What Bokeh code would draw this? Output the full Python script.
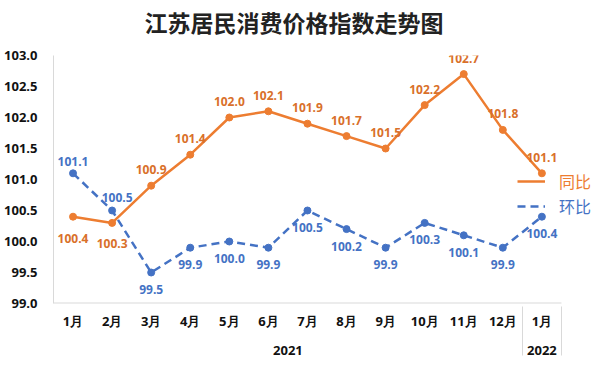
from bokeh.plotting import figure
from bokeh.models import (FactorRange, ColumnDataSource, LabelSet, Legend, LegendItem,
                          FixedTicker, Range1d, NumeralTickFormatter, Title)
from bokeh.embed import file_html
from bokeh.resources import INLINE
from bokeh.core.properties import value

title = "江苏居民消费价格指数走势图"
years = ["2021"] * 12 + ["2022"]
months = ["1月", "2月", "3月", "4月", "5月", "6月", "7月", "8月", "9月", "10月", "11月", "12月", "1月"]
yoy = [100.4, 100.3, 100.9, 101.4, 102.0, 102.1, 101.9, 101.7, 101.5, 102.2, 102.7, 101.8, 101.1]
mom = [101.1, 100.5, 99.5, 99.9, 100.0, 99.9, 100.5, 100.2, 99.9, 100.3, 100.1, 99.9, 100.4]
y_ticks = [99.0, 99.5, 100.0, 100.5, 101.0, 101.5, 102.0, 102.5, 103.0]
series_names = ["同比", "环比"]

ORANGE = "#ED7D31"
ORANGE_TXT = "#D9702A"
BLUE = "#4472C4"
GRID = "#D9D9D9"

factors = list(zip(years, months))
# blank trailing slot that leaves room for the legend at the right
legend_slot = (" ", " ")

p = figure(width=600, height=371,
           x_range=FactorRange(*(factors + [legend_slot]), factor_padding=0,
                               group_padding=0, range_padding=0),
           y_range=Range1d(99.0, 103.0),
           output_backend="svg", toolbar_location=None,
           min_border_left=53, min_border_right=0, min_border_top=55, min_border_bottom=68)

p.title.text = ""
p.title.standoff = 0
# spacer between title and plot area, then the title itself
p.add_layout(Title(text=" ", text_font_size="8px", standoff=6), "above")
p.add_layout(Title(text=title, align="left", offset=91, standoff=0,
                   text_font="Noto Sans CJK SC", text_font_size="23px",
                   text_font_style="bold", text_color="#222222"), "above")

p.outline_line_color = None
p.xgrid.grid_line_color = None
p.ygrid.grid_line_color = None

p.yaxis.ticker = FixedTicker(ticks=y_ticks)
p.yaxis.formatter = NumeralTickFormatter(format="0.0")
p.yaxis.axis_line_color = GRID
p.yaxis.major_tick_line_color = None
p.yaxis.major_tick_out = 0
p.yaxis.major_tick_in = 0
p.yaxis.minor_tick_line_color = None
p.yaxis.major_label_standoff = 16
p.yaxis.major_label_text_font = "Open Sans"
p.yaxis.major_label_text_font_style = "bold"
p.yaxis.major_label_text_font_size = "13px"
p.yaxis.major_label_text_color = "#111111"

p.xaxis.axis_line_color = None
p.xaxis.major_tick_line_color = None
p.xaxis.major_tick_out = 0
p.xaxis.major_tick_in = 0
p.xaxis.minor_tick_line_color = None
p.xaxis.major_label_standoff = 8
p.xaxis.major_label_text_font = "Open Sans"
p.xaxis.major_label_text_font_style = "bold"
p.xaxis.major_label_text_font_size = "13px"
p.xaxis.major_label_text_color = "#111111"
p.xaxis.group_text_font = "Open Sans"
p.xaxis.group_text_font_style = "bold"
p.xaxis.group_text_font_size = "13px"
p.xaxis.group_text_color = "#111111"
p.xaxis.separator_line_color = GRID
p.xaxis.separator_line_width = 1

# bottom axis line over the real categories only
p.segment(x0=[factors[0] + (-0.5,)], x1=[factors[-1] + (0.5,)], y0=[99.0], y1=[99.0],
          line_color=GRID, line_width=2)

src = ColumnDataSource(dict(x=factors, yoy=yoy, mom=mom,
                            yoy_txt=[f"{v:.1f}" for v in yoy],
                            mom_txt=[f"{v:.1f}" for v in mom]))

r_yoy = p.line("x", "yoy", source=src, line_color=ORANGE, line_width=2.5)
p.scatter("x", "yoy", source=src, size=7, color=ORANGE)
r_mom = p.line("x", "mom", source=src, line_color=BLUE, line_width=2.5, line_dash="8 5")
p.scatter("x", "mom", source=src, size=7, color=BLUE)

# label offsets (style)
src.data["yoy_off"] = [-22, -21] + [16] * 11
src.data["mom_off"] = [12, 13] + [-17] * 11
src.data["mom_xoff"] = [0, 5] + [0] * 11

p.add_layout(LabelSet(x="x", y="yoy", text="yoy_txt", source=src, y_offset="yoy_off",
                      text_align="center", text_baseline="middle",
                      text_font=value("Open Sans"), text_font_style="bold",
                      text_font_size="12px", text_color=ORANGE_TXT))
p.add_layout(LabelSet(x="x", y="mom", text="mom_txt", source=src, y_offset="mom_off",
                      x_offset="mom_xoff",
                      text_align="center", text_baseline="middle",
                      text_font=value("Open Sans"), text_font_style="bold",
                      text_font_size="12px", text_color=BLUE))

for name, rend, col, loc in [(series_names[0], r_yoy, ORANGE, (464, 110)),
                              (series_names[1], r_mom, BLUE, (464, 85))]:
    lg = Legend(items=[LegendItem(label=name, renderers=[rend])], location=loc,
                background_fill_alpha=0, border_line_alpha=0, padding=0, margin=0,
                spacing=0, glyph_width=28, glyph_height=20, label_height=20,
                label_standoff=14, label_text_font="Noto Sans CJK SC",
                label_text_font_size="16px", label_text_color=col)
    p.add_layout(lg)

open("out.html", "w").write(file_html(p, INLINE))
